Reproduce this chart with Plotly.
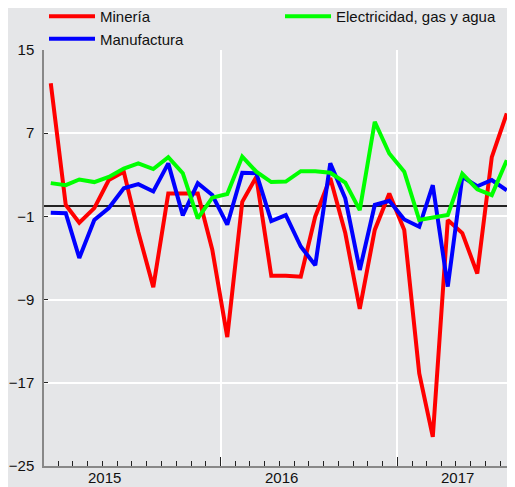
import plotly.graph_objects as go

months = [f"{y}-{m:02d}-15" for y in (2015, 2016, 2017) for m in range(1, 13)][:32]

mineria = [11.8, 0.1, -1.6, -0.2, 2.5, 3.3, -2.5, -7.8, 1.2, 1.2, 1.2, -4.2,
           -12.6, 0.4, 2.8, -6.7, -6.7, -6.8, -1.0, 2.7, -2.6, -9.9, -2.3, 1.2,
           -2.3, -16.1, -22.2, -1.35, -2.6, -6.5, 4.7, 8.9]
manufactura = [-0.65, -0.7, -5.0, -1.35, -0.2, 1.7, 2.1, 1.4, 4.1, -0.9, 2.2, 1.05,
               -1.8, 3.2, 3.15, -1.45, -0.87, -3.9, -5.7, 4.1, 0.74, -6.15, 0.1, 0.5,
               -1.3, -2.0, 2.0, -7.75, 2.8, 1.9, 2.5, 1.5]
electricidad = [2.2, 2.0, 2.55, 2.3, 2.8, 3.6, 4.1, 3.55, 4.7, 3.15, -1.2, 0.8,
                1.15, 4.75, 3.3, 2.3, 2.35, 3.35, 3.35, 3.2, 2.25, -0.4, 8.1, 5.05,
                3.3, -1.35, -1.1, -0.87, 3.1, 1.6, 1.05, 4.4]

series_names = ["Minería", "Manufactura", "Electricidad, gas y agua"]
year_labels = ["2015", "2016", "2017"]
year_label_pos = ["2015-05-06", "2016-05-06", "2017-05-06"]
y_ticks = [-25, -17, -9, -1, 7, 15]

bg = "#e5e6e8"
font = "Liberation Sans, Arial, sans-serif"

fig = go.Figure()
for name, vals, color, leg in [
    (series_names[0], mineria, "#ff0000", "legend"),
    (series_names[1], manufactura, "#0000ff", "legend"),
    (series_names[2], electricidad, "#00ff00", "legend2"),
]:
    fig.add_trace(go.Scatter(x=months, y=vals, name=name, mode="lines",
                             line=dict(color=color, width=4), legend=leg))

for lab, pos in zip(year_labels, year_label_pos):
    fig.add_annotation(x=pos, y=0, xref="x", yref="paper", text=lab,
                       showarrow=False, yanchor="middle", yshift=-11,
                       font=dict(size=15, color="#111111", family=font))

leg_common = dict(orientation="v", xref="container", yref="paper",
                  xanchor="left", yanchor="top", bgcolor="rgba(0,0,0,0)",
                  font=dict(size=15, color="#111111"), itemwidth=46,
                  tracegroupgap=0)

fig.update_layout(
    width=515, height=487,
    margin=dict(l=36, r=8, t=42, b=29, autoexpand=False),
    paper_bgcolor=bg, plot_bgcolor=bg,
    font=dict(family=font, size=15, color="#111111"),
    showlegend=True,
    legend=dict(x=36 / 515, y=1 + 50 / 416, **leg_common),
    legend2=dict(x=272 / 515, y=1 + 50 / 416, **leg_common),
    xaxis=dict(type="date", range=["2015-01-01", "2017-09-01"],
               tickvals=["2015-01-01", "2016-01-01", "2017-01-01"],
               ticktext=["", "", ""],
               ticks="inside", ticklen=9, tickcolor="#222222", tickwidth=1,
               showgrid=True, gridcolor="#ffffff", gridwidth=1.5,
               showline=True, linecolor="#888888", linewidth=1.5,
               zeroline=False,
               minor=dict(dtick="M1", tick0="2015-01-01", ticks="inside",
                          ticklen=5, tickcolor="#222222", tickwidth=1,
                          showgrid=False)),
    yaxis=dict(range=[-25, 15], tickvals=y_ticks,
               ticks="inside", ticklen=4, tickcolor="#222222", tickwidth=1,
               showgrid=True, gridcolor="#ffffff", gridwidth=1.5,
               showline=True, linecolor="#888888", linewidth=1.5,
               zeroline=True, zerolinecolor="#222222", zerolinewidth=1.5,
               ticklabelstandoff=5,
               tickfont=dict(size=15, color="#111111")),
)

fig.write_html("out.html")
